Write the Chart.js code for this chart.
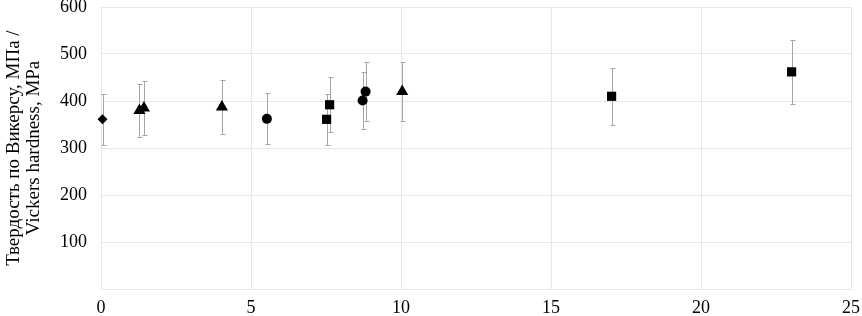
<!DOCTYPE html>
<html>
<head>
<meta charset="utf-8">
<script src="https://cdn.jsdelivr.net/npm/chart.js@4"></script>
<style>
	html, body { margin: 0; padding: 0; background: #fff; }
	#wrap { width: 862px; height: 316px; }
</style>
</head>
<body>
<div id="wrap"><canvas id="hardness-chart"></canvas></div>
<script>
// values
var diamondX = [0.05];
var diamondY = [361];
var diamondErr = [54];

var triangleX = [1.28, 1.43, 4.03, 10.04];
var triangleY = [380, 385, 387, 420];
var triangleErr = [57, 57, 58, 63];

var circleX = [5.53, 8.72, 8.82];
var circleY = [362, 401, 420];
var circleErr = [54, 60, 63];

var squareX = [7.52, 7.62, 17.02, 23.02];
var squareY = [361, 392, 410, 462];
var squareErr = [54, 59, 61, 68];

var xTicks = [0, 5, 10, 15, 20, 25];
var yTicks = [0, 100, 200, 300, 400, 500, 600];

var yTitle = ['Твердость по Викерсу, МПа /', 'Vickers hardness, МPa'];

function points(xs, ys, errs) {
	var out = [];
	for (var i = 0; i < xs.length; i++) {
		out.push({ x: xs[i], y: ys[i], err: errs[i] });
	}
	return out;
}

// vertical error bars, drawn under the markers
var errorBars = {
	id: 'errorBars',
	beforeDatasetsDraw: function (chart) {
		var ctx = chart.ctx;
		var xs = chart.scales.x, ys = chart.scales.y;
		ctx.save();
		ctx.strokeStyle = '#a6a6a6';
		ctx.lineWidth = 1;
		chart.data.datasets.forEach(function (ds) {
			ds.data.forEach(function (p) {
				var px = Math.round(xs.getPixelForValue(p.x)) + 0.5;
				var top = Math.round(ys.getPixelForValue(p.y + p.err)) + 0.5;
				var bot = Math.round(ys.getPixelForValue(p.y - p.err)) + 0.5;
				ctx.beginPath();
				ctx.moveTo(px, top); ctx.lineTo(px, bot);
				ctx.moveTo(px - 2, top); ctx.lineTo(px + 3, top);
				ctx.moveTo(px - 2, bot); ctx.lineTo(px + 3, bot);
				ctx.stroke();
			});
		});
		ctx.restore();
	}
};

var serif = "'Liberation Serif', 'Times New Roman', serif";

var hardnessChart = new Chart(document.getElementById('hardness-chart'), {
	type: 'scatter',
	data: {
		datasets: [
			{
				label: 'diamond',
				data: points(diamondX, diamondY, diamondErr),
				pointStyle: 'rectRot',
				pointRadius: 5,
				backgroundColor: '#000',
				borderColor: '#000',
				borderWidth: 0,
				clip: false
			},
			{
				label: 'triangle',
				data: points(triangleX, triangleY, triangleErr),
				pointStyle: 'triangle',
				pointRadius: 7,
				backgroundColor: '#000',
				borderColor: '#000',
				borderWidth: 0,
				clip: false
			},
			{
				label: 'circle',
				data: points(circleX, circleY, circleErr),
				pointStyle: 'circle',
				pointRadius: 5,
				backgroundColor: '#000',
				borderColor: '#000',
				borderWidth: 0,
				clip: false
			},
			{
				label: 'square',
				data: points(squareX, squareY, squareErr),
				pointStyle: 'rect',
				pointRadius: 6.5,
				backgroundColor: '#000',
				borderColor: '#000',
				borderWidth: 0,
				clip: false
			}
		]
	},
	options: {
		responsive: true,
		maintainAspectRatio: false,
		animation: false,
		layout: { padding: 0 },
		plugins: {
			legend: { display: false },
			tooltip: { enabled: false }
		},
		scales: {
			x: {
				type: 'linear',
				min: 0,
				max: 25,
				afterBuildTicks: function (axis) {
					axis.ticks = xTicks.map(function (v) { return { value: v }; });
				},
				afterFit: function (axis) {
					axis.height = 27;
					axis.paddingRight = 11;
				},
				grid: { color: '#e6e6e6', drawTicks: false },
				border: { color: '#e6e6e6' },
				ticks: {
					color: '#000',
					padding: 10,
					maxRotation: 0,
					font: { family: serif, size: 18, lineHeight: 1 }
				}
			},
			y: {
				min: 0,
				max: 600,
				afterBuildTicks: function (axis) {
					axis.ticks = yTicks.map(function (v) { return { value: v }; });
				},
				afterFit: function (axis) {
					axis.width = 101;
					axis.paddingTop = 5;
					axis.paddingBottom = 0;
				},
				grid: { color: '#e6e6e6', drawTicks: false },
				border: { color: '#e6e6e6' },
				ticks: {
					color: '#000',
					padding: 14,
					font: { family: serif, size: 18, lineHeight: 1 },
					callback: function (v) { return v === 0 ? '' : v; }
				},
				title: {
					display: true,
					text: yTitle,
					color: '#000',
					padding: { top: 4, bottom: 14 },
					font: { family: serif, size: 19, lineHeight: 1.05 }
				}
			}
		}
	},
	plugins: [errorBars]
});
</script>
</body>
</html>
